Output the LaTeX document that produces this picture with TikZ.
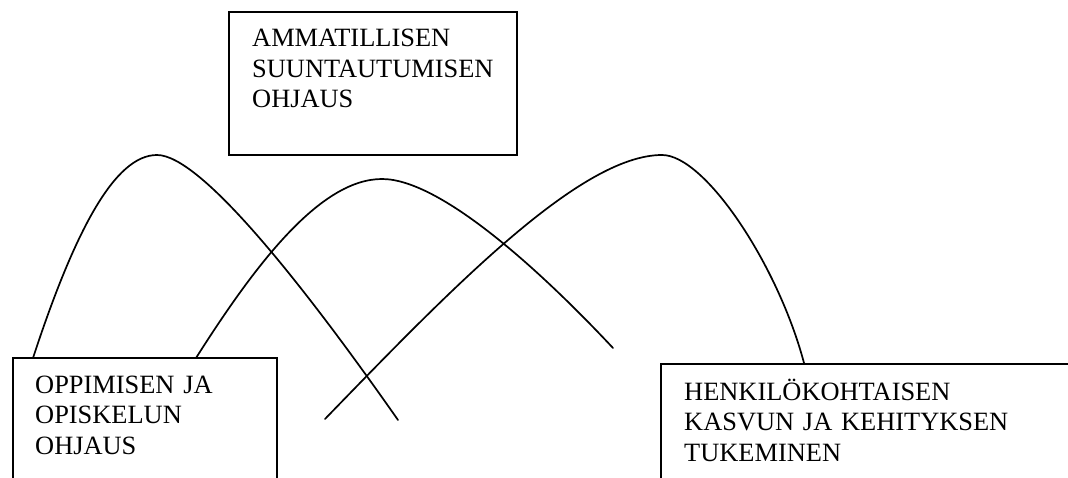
\documentclass[tikz,border=0pt]{standalone}
\usepackage{fontspec}
\setmainfont{Liberation Serif}
\begin{document}
\begin{tikzpicture}[x=1pt,y=-1pt,
  boxframe/.style={draw=black, line width=1.7pt},
  boxtext/.style={anchor=base west, inner sep=0pt, text width=400pt, align=left,
    font=\fontsize{26.4}{30.5}\selectfont},
  arc/.style={line width=1.7pt, line cap=round}]
\useasboundingbox (0,0) rectangle (1068,478);
% boxes
\draw[boxframe] (229,12) rectangle (517,155);
\draw[boxframe] (13,478) -- (13,358) -- (277,358) -- (277,478);
\draw[boxframe] (661,478) -- (661,364) -- (1068,364);
% texts
\node[boxtext] (ammat) at (252,47) {AMMATILLISEN\\SUUNTAUTUMISEN\\OHJAUS};
\node[boxtext] (oppim) at (35,393) {OPPIMISEN JA\\OPISKELUN\\OHJAUS};
\node[boxtext] (henk) at (684,400) {HENKILÖKOHTAISEN\\KASVUN JA KEHITYKSEN\\TUKEMINEN};
% arcs
\coordinate (a1) at (33,358);  \coordinate (p1) at (157,155); \coordinate (e1) at (398,420);
\coordinate (a2) at (196,358); \coordinate (p2) at (382,179); \coordinate (e2) at (613,348);
\coordinate (a3) at (325,419); \coordinate (p3) at (662,155); \coordinate (e3) at (804,363);
\draw[arc] (a1) .. controls (75,230) and (115,155) .. (p1)
               .. controls (200,155) and (300,280) .. (e1);
\draw[arc] (a2) .. controls (255,265) and (320,179) .. (p2)
               .. controls (440,179) and (540,270) .. (e2);
\draw[arc] (a3) .. controls (450,290) and (580,155) .. (p3)
               .. controls (705,155) and (778,265) .. (e3);
\end{tikzpicture}
\end{document}
